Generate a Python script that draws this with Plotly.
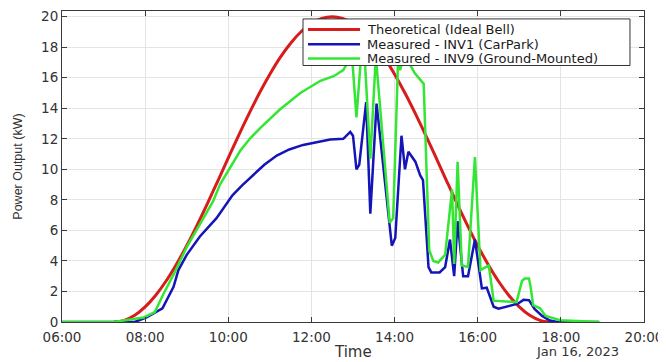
import pandas as pd
import plotly.graph_objects as go

DAY = "2023-01-16"

# Theoretical (ideal bell) curve, read at 15-minute steps
theo_times = ["07:15", "07:30", "07:45", "08:00", "08:15", "08:30", "08:45", "09:00",
              "09:15", "09:30", "09:45", "10:00", "10:15", "10:30", "10:45", "11:00",
              "11:15", "11:30", "11:45", "12:00", "12:15", "12:30", "12:45", "13:00",
              "13:15", "13:30", "13:45", "14:00", "14:15", "14:30", "14:45", "15:00",
              "15:15", "15:30", "15:45", "16:00", "16:15", "16:30", "16:45", "17:00",
              "17:15", "17:30", "17:45"]
theo_kw = [0.0, 0.11, 0.44, 0.99, 1.74, 2.67, 3.77, 5.0, 6.35, 7.77, 9.25, 10.75,
           12.23, 13.65, 15.0, 16.23, 17.33, 18.26, 19.01, 19.56, 19.89, 20.0,
           19.89, 19.56, 19.01, 18.26, 17.33, 16.23, 15.0, 13.65, 12.23, 10.75,
           9.25, 7.77, 6.35, 5.0, 3.77, 2.67, 1.74, 0.99, 0.44, 0.11, 0.0]

# Measured - INV1 (CarPark)
inv1_times = ["06:00", "07:45", "08:02", "08:25", "08:41", "08:48", "09:00", "09:19",
              "09:43", "09:55", "10:06", "10:20", "10:36", "10:52", "11:10", "11:28",
              "11:48", "12:27", "12:46", "12:56",
              "13:00", "13:05", "13:09", "13:19", "13:25", "13:34", "13:56", "14:01",
              "14:10", "14:15", "14:20", "14:30", "14:37", "14:41", "14:49", "14:53",
              "15:05", "15:13", "15:20", "15:26", "15:31", "15:39", "15:46", "15:56",
              "16:06", "16:13", "16:23", "16:30", "16:58", "17:06", "17:14", "17:22",
              "17:33", "17:44", "17:55", "18:55"]
inv1_kw = [0.0, 0.0, 0.3, 0.9, 2.3, 3.4, 4.4, 5.6,
           6.8, 7.6, 8.3, 8.95, 9.6, 10.3, 10.9, 11.3,
           11.6, 11.95, 12.0, 12.45,
           12.2, 10.0, 10.3, 14.4, 7.1, 14.3, 5.0, 5.5,
           12.2, 10.0, 11.15, 10.5, 9.6, 9.3, 3.6, 3.25,
           3.25, 3.6, 5.4, 3.0, 6.6, 3.0, 3.0, 5.4,
           2.2, 2.25, 1.0, 0.87, 1.2, 1.45, 1.43, 0.85,
           0.4, 0.1, 0.0, 0.0]

# Measured - INV9 (Ground-Mounted)
inv9_times = ["06:00", "07:15", "07:58", "08:14", "08:26", "08:41", "09:00", "09:19",
              "09:38", "09:48", "10:02", "10:17", "10:31", "10:46", "11:14", "11:44",
              "12:13", "12:32",
              "12:46", "12:51", "12:58", "13:05", "13:12", "13:17", "13:25", "13:33",
              "13:53", "13:58", "14:05", "14:08", "14:11", "14:17", "14:29", "14:35",
              "14:39", "14:42", "14:50", "14:56", "15:03", "15:13", "15:23", "15:26",
              "15:31", "15:37", "15:46", "15:56", "16:04", "16:11", "16:16", "16:23",
              "16:37", "16:56", "17:04", "17:08", "17:14", "17:16", "17:20", "17:30",
              "17:38", "17:59", "18:56"]
inv9_kw = [0.0, 0.0, 0.3, 0.65, 1.8, 3.1, 4.9, 6.4,
           7.9, 9.0, 10.1, 11.2, 12.0, 12.7, 13.9, 15.0,
           15.8, 16.1,
           16.5, 16.9, 17.8, 13.4, 17.6, 17.2, 10.7, 17.4,
           6.5, 6.8, 17.1, 16.5, 17.0, 17.3, 16.3, 16.0,
           15.8, 15.6, 4.7, 4.0, 3.9, 4.4, 8.7, 3.8,
           10.5, 3.7, 3.6, 10.8, 3.4, 3.6, 3.7, 1.4,
           1.36, 1.3, 2.7, 2.85, 2.85, 2.4, 1.1, 0.9,
           0.4, 0.12, 0.0]

series_names = ["Theoretical (Ideal Bell)", "Measured - INV1 (CarPark)",
                "Measured - INV9 (Ground-Mounted)"]
series_colors = ["#d81c1c", "#1414b8", "#33e633"]
series_widths = [3, 2.5, 2.5]

x_ticks = ["06:00", "08:00", "10:00", "12:00", "14:00", "16:00", "18:00", "20:00"]
y_ticks = [0, 2, 4, 6, 8, 10, 12, 14, 16, 18, 20]


def ts(times):
    return pd.to_datetime([f"{DAY} {t}" for t in times])


fig = go.Figure()
fig.add_trace(go.Scatter(x=ts(theo_times), y=theo_kw, mode="lines",
                         name=series_names[0], line_shape="spline",
                         line=dict(color=series_colors[0], width=series_widths[0])))
fig.add_trace(go.Scatter(x=ts(inv1_times), y=inv1_kw, mode="lines",
                         name=series_names[1],
                         line=dict(color=series_colors[1], width=series_widths[1])))
fig.add_trace(go.Scatter(x=ts(inv9_times), y=inv9_kw, mode="lines",
                         name=series_names[2],
                         line=dict(color=series_colors[2], width=series_widths[2])))

axis_col = "#3a3a3a"

fig.update_xaxes(
    range=[pd.Timestamp(f"{DAY} 06:00"), pd.Timestamp(f"{DAY} 20:00")],
    tickvals=ts(x_ticks), ticktext=x_ticks,
    tickfont=dict(family="DejaVu Sans", size=13.5, color="#333333"),
    showgrid=True, gridcolor="#e4e4e4", gridwidth=1,
    showline=True, linecolor=axis_col, linewidth=1, mirror="allticks",
    ticks="inside", ticklen=5, tickcolor=axis_col, zeroline=False,
    ticklabeloverflow="allow", ticklabelstandoff=3,
)
fig.update_yaxes(
    range=[0, 20.37], tickvals=y_ticks,
    tickfont=dict(family="DejaVu Sans", size=13.5, color="#333333"),
    showgrid=True, gridcolor="#e4e4e4", gridwidth=1,
    showline=True, linecolor=axis_col, linewidth=1, mirror="allticks",
    ticks="inside", ticklen=5, tickcolor=axis_col, zeroline=False,
    ticklabeloverflow="allow",
)

fig.add_annotation(text="Time", xref="paper", yref="paper", x=0.5, y=-0.098,
                   showarrow=False, font=dict(family="DejaVu Sans", size=15, color="#333333"),
                   xanchor="center", yanchor="middle")
fig.add_annotation(text="Jan 16, 2023", xref="paper", yref="paper", x=0.885, y=-0.095,
                   showarrow=False, font=dict(family="DejaVu Sans", size=13, color="#333333"),
                   xanchor="center", yanchor="middle")
fig.add_annotation(text="Power Output (kW)", xref="paper", yref="paper", x=-0.077, y=0.5,
                   textangle=-90, showarrow=False,
                   font=dict(family="Liberation Sans", size=12.5, color="#333333"),
                   xanchor="center", yanchor="middle")

# Legend box (MATLAB-style, compact rows)
leg_x0, leg_x1, leg_y0, leg_y1 = 0.4141, 0.9759, 0.8248, 0.9745
fig.add_shape(type="rect", xref="paper", yref="paper",
              x0=leg_x0, x1=leg_x1, y0=leg_y0, y1=leg_y1,
              fillcolor="white", line=dict(color="#333333", width=1), layer="above")
row_y = [0.9404, 0.8927, 0.8471]
for name, col, w, ry in zip(series_names, series_colors, series_widths, row_y):
    fig.add_shape(type="line", xref="paper", yref="paper",
                  x0=0.4227, x1=0.5120, y0=ry, y1=ry,
                  line=dict(color=col, width=w), layer="above")
    fig.add_annotation(text=name, xref="paper", yref="paper", x=0.5223, y=ry,
                       xanchor="left", yanchor="middle", showarrow=False, borderpad=0,
                       font=dict(family="DejaVu Sans", size=13, color="#1a1a1a"))

# The page body adds an 8px offset, so the figure is sized to fit the window
fig.update_layout(
    width=658, height=354,
    margin=dict(l=54, r=22, t=0, b=40),
    paper_bgcolor="white", plot_bgcolor="white",
    showlegend=False,
)

fig.write_html("out.html")
